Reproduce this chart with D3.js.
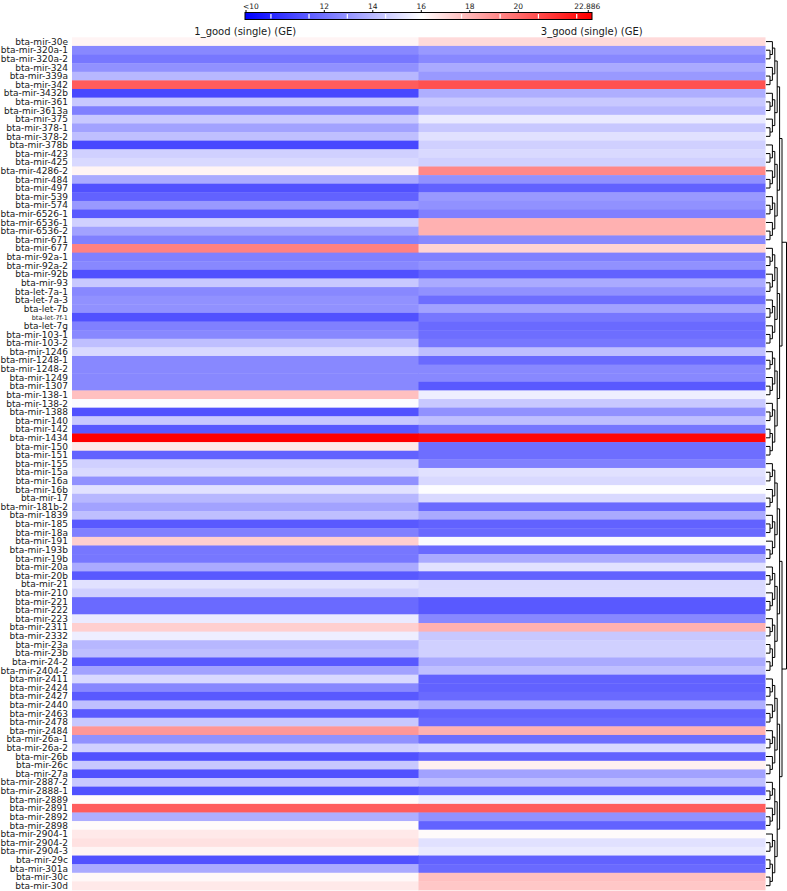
<!DOCTYPE html>
<html>
<head>
<meta charset="utf-8">
<script src="https://cdn.jsdelivr.net/npm/d3@7"></script>
<style>
  body { margin: 0; background: #fff; }
  text { font-family: "DejaVu Sans", sans-serif; fill: #1a1a1a; }
</style>
</head>
<body>
<svg id="chart" width="787" height="891"></svg>
<script>
// ---------------- DATA ----------------
const rows = ["bta-mir-30e","bta-mir-320a-1","bta-mir-320a-2","bta-mir-324","bta-mir-339a","bta-mir-342","bta-mir-3432b","bta-mir-361","bta-mir-3613a","bta-mir-375",
"bta-mir-378-1","bta-mir-378-2","bta-mir-378b","bta-mir-423","bta-mir-425","bta-mir-4286-2","bta-mir-484","bta-mir-497","bta-mir-539","bta-mir-574",
"bta-mir-6526-1","bta-mir-6536-1","bta-mir-6536-2","bta-mir-671","bta-mir-677","bta-mir-92a-1","bta-mir-92a-2","bta-mir-92b","bta-mir-93","bta-let-7a-1",
"bta-let-7a-3","bta-let-7b","bta-let-7f-1","bta-let-7g","bta-mir-103-1","bta-mir-103-2","bta-mir-1246","bta-mir-1248-1","bta-mir-1248-2","bta-mir-1249",
"bta-mir-1307","bta-mir-138-1","bta-mir-138-2","bta-mir-1388","bta-mir-140","bta-mir-142","bta-mir-1434","bta-mir-150","bta-mir-151","bta-mir-155",
"bta-mir-15a","bta-mir-16a","bta-mir-16b","bta-mir-17","bta-mir-181b-2","bta-mir-1839","bta-mir-185","bta-mir-18a","bta-mir-191","bta-mir-193b",
"bta-mir-19b","bta-mir-20a","bta-mir-20b","bta-mir-21","bta-mir-210","bta-mir-221","bta-mir-222","bta-mir-223","bta-mir-2311","bta-mir-2332",
"bta-mir-23a","bta-mir-23b","bta-mir-24-2","bta-mir-2404-2","bta-mir-2411","bta-mir-2424","bta-mir-2427","bta-mir-2440","bta-mir-2463","bta-mir-2478",
"bta-mir-2484","bta-mir-26a-1","bta-mir-26a-2","bta-mir-26b","bta-mir-26c","bta-mir-27a","bta-mir-2887-2","bta-mir-2888-1","bta-mir-2889","bta-mir-2891",
"bta-mir-2892","bta-mir-2898","bta-mir-2904-1","bta-mir-2904-2","bta-mir-2904-3","bta-mir-29c","bta-mir-301a","bta-mir-30c","bta-mir-30d"];

const columns = ["1_good (single) (GE)", "3_good (single) (GE)"];

const col1Values = [16.3,13.2,12.8,13.4,14.3,20.4,11.7,14.7,13.0,14.7,
13.8,14.5,11.7,14.9,15.1,16.3,14.0,11.9,12.3,13.6,
12.1,14.9,13.8,13.0,19.4,13.0,13.2,11.9,14.7,13.2,
13.4,13.4,11.9,13.0,13.2,14.5,15.1,13.2,13.2,13.2,
13.2,17.7,15.9,11.9,14.7,12.1,22.886,16.6,12.3,14.9,
15.1,13.4,15.3,14.3,13.8,14.5,12.1,13.0,17.3,12.8,
12.8,14.0,12.1,15.3,14.9,12.5,12.5,15.5,17.3,15.6,
14.3,14.5,12.1,13.8,15.1,13.2,12.1,14.5,12.1,14.7,
18.8,13.4,14.9,11.9,14.7,11.9,14.7,11.9,16.1,20.4,
14.1,16.1,16.6,16.8,16.3,11.9,14.0,16.2,16.6];

const col2Values = [17.0,13.6,13.2,14.0,13.6,20.7,14.1,14.7,14.3,15.5,
14.7,15.3,14.9,15.1,14.9,19.2,13.4,12.3,13.6,13.4,
13.0,18.1,18.1,13.2,17.2,13.0,13.4,12.3,14.0,13.4,
12.6,13.8,12.8,12.5,12.6,12.8,14.5,12.5,13.2,13.2,
12.1,15.6,14.7,13.4,14.5,12.8,22.7,12.6,12.6,13.0,
15.3,15.1,15.95,15.1,12.5,14.0,12.3,12.5,15.9,12.5,
14.0,15.3,12.3,15.1,15.1,12.1,12.1,13.2,18.1,14.7,
14.9,14.9,14.0,14.5,12.3,12.3,12.5,14.1,12.3,12.5,
18.1,12.6,15.1,12.3,16.4,13.8,14.5,12.3,15.6,20.4,
13.4,12.3,16.1,15.3,15.5,12.3,12.5,17.7,17.5];

const colorDomain = [10, 16, 22.886];
const colorRange = ["#0000ff", "#ffffff", "#ff0000"];
const legendTickValues = [12, 14, 16, 18, 20, 22.886];
const legendTickLabels = ["12", "14", "16", "18", "20", "22.886"];
const legendLowLabel = "<10";
const legendMinorTicks = [9.8, 11.37, 12.95, 14.53, 16.1, 17.66, 19.25, 20.83, 22.41];
const legendDomain = [8.73, 23.04];

// ---------------- LAYOUT ----------------
const svg = d3.select("#chart");
const heat = { left: 72, right: 765, top: 37.3, bottom: 890 };

const y = d3.scaleBand().domain(rows).range([heat.top, heat.bottom]);
const x = d3.scaleBand().domain(columns).range([heat.left, heat.right]);
const color = d3.scaleLinear().domain(colorDomain).range(colorRange)
  .interpolate(d3.interpolateRgb).clamp(true);

const cells = [];
rows.forEach((r, i) => {
  cells.push({ row: r, col: columns[0], v: col1Values[i] });
  cells.push({ row: r, col: columns[1], v: col2Values[i] });
});

svg.append("g").selectAll("rect").data(cells).join("rect")
  .attr("x", d => x(d.col))
  .attr("y", d => y(d.row))
  .attr("width", x.bandwidth() + 0.5)
  .attr("height", y.bandwidth() + 0.4)
  .attr("fill", d => color(d.v));

// row labels
svg.append("g").selectAll("text").data(rows).join("text")
  .attr("x", heat.left - 4)
  .attr("y", d => y(d) + y.bandwidth() / 2)
  .attr("dy", "0.35em")
  .attr("text-anchor", "end")
  .style("font-size", d => d === "bta-let-7f-1" ? "6.5px" : "9px")
  .text(d => d);

// column labels
svg.append("g").selectAll("text").data(columns).join("text")
  .attr("x", d => x(d) + x.bandwidth() / 2)
  .attr("y", 34.5)
  .attr("text-anchor", "middle")
  .style("font-size", "10px")
  .text(d => d);

// ---------------- LEGEND ----------------
const lx = d3.scaleLinear().domain(legendDomain).range([245, 592]);
const barY = 12.5, barH = 7;
const defs = svg.append("defs");
const grad = defs.append("linearGradient").attr("id", "lg")
  .attr("x1", "0%").attr("x2", "100%").attr("y1", "0%").attr("y2", "0%");
const w = lx.range()[1] - lx.range()[0];
grad.append("stop").attr("offset", "0%").attr("stop-color", colorRange[0]);
grad.append("stop").attr("offset", ((lx(colorDomain[1]) - 245) / w * 100) + "%").attr("stop-color", colorRange[1]);
grad.append("stop").attr("offset", ((lx(colorDomain[2]) - 245) / w * 100) + "%").attr("stop-color", colorRange[2]);
grad.append("stop").attr("offset", "100%").attr("stop-color", colorRange[2]);

svg.append("rect")
  .attr("x", lx.range()[0]).attr("y", barY)
  .attr("width", w).attr("height", barH)
  .attr("fill", "url(#lg)");

svg.append("g").selectAll("line").data(legendMinorTicks).join("line")
  .attr("x1", d => lx(d)).attr("x2", d => lx(d))
  .attr("y1", barY + 1.5).attr("y2", barY + barH - 1)
  .attr("stroke", "#fff").attr("stroke-width", 1.2);

svg.append("rect")
  .attr("x", lx.range()[0]).attr("y", barY)
  .attr("width", w).attr("height", barH)
  .attr("fill", "none").attr("stroke", "#000").attr("stroke-width", 1);

// major ticks
const majorPos = [lx.domain()[0]].concat(legendTickValues);
svg.append("g").selectAll("line").data(majorPos).join("line")
  .attr("x1", d => lx(d) + (d === lx.domain()[0] ? 1 : 0))
  .attr("x2", d => lx(d) + (d === lx.domain()[0] ? 1 : 0))
  .attr("y1", barY - 2.5).attr("y2", barY)
  .attr("stroke", "#000").attr("stroke-width", 1);

svg.append("text")
  .attr("x", lx(lx.domain()[0]) - 2).attr("y", 8.5)
  .attr("text-anchor", "start")
  .style("font-size", "7.5px")
  .text(legendLowLabel);

svg.append("g").selectAll("text").data(legendTickValues).join("text")
  .attr("x", d => lx(d) - (d === 22.886 ? 1 : 0))
  .attr("y", 8.5)
  .attr("text-anchor", "middle")
  .style("font-size", "7.5px")
  .text((d, i) => legendTickLabels[i]);

// ---------------- DENDROGRAM ----------------
function buildTree(lo, hi) {
  if (hi - lo === 1) return { name: rows[lo] };
  const mid = Math.floor((lo + hi) / 2);
  return { children: [buildTree(lo, mid), buildTree(mid, hi)] };
}
const root = d3.hierarchy(buildTree(0, rows.length));
const maxH = root.height;
const dx = d3.scaleLinear().domain([0, 1, maxH - 1, maxH]).range([766, 770, 782, 786.5]);

root.eachAfter(n => {
  if (!n.children) n.py = y(n.data.name) + y.bandwidth() / 2;
  else n.py = (n.children[0].py + n.children[n.children.length - 1].py) / 2;
  n.px = dx(n.height);
});

const segs = [];
root.each(n => {
  if (n.children) {
    segs.push([n.px, n.children[0].py, n.px, n.children[n.children.length - 1].py]);
    n.children.forEach(c => segs.push([c.px, c.py, n.px, c.py]));
  }
});
segs.push([root.px, root.py, 787, root.py]);

svg.append("g").selectAll("line").data(segs).join("line")
  .attr("x1", d => d[0]).attr("y1", d => d[1])
  .attr("x2", d => d[2]).attr("y2", d => d[3])
  .attr("stroke", "#000").attr("stroke-width", 1);
</script>
</body>
</html>
